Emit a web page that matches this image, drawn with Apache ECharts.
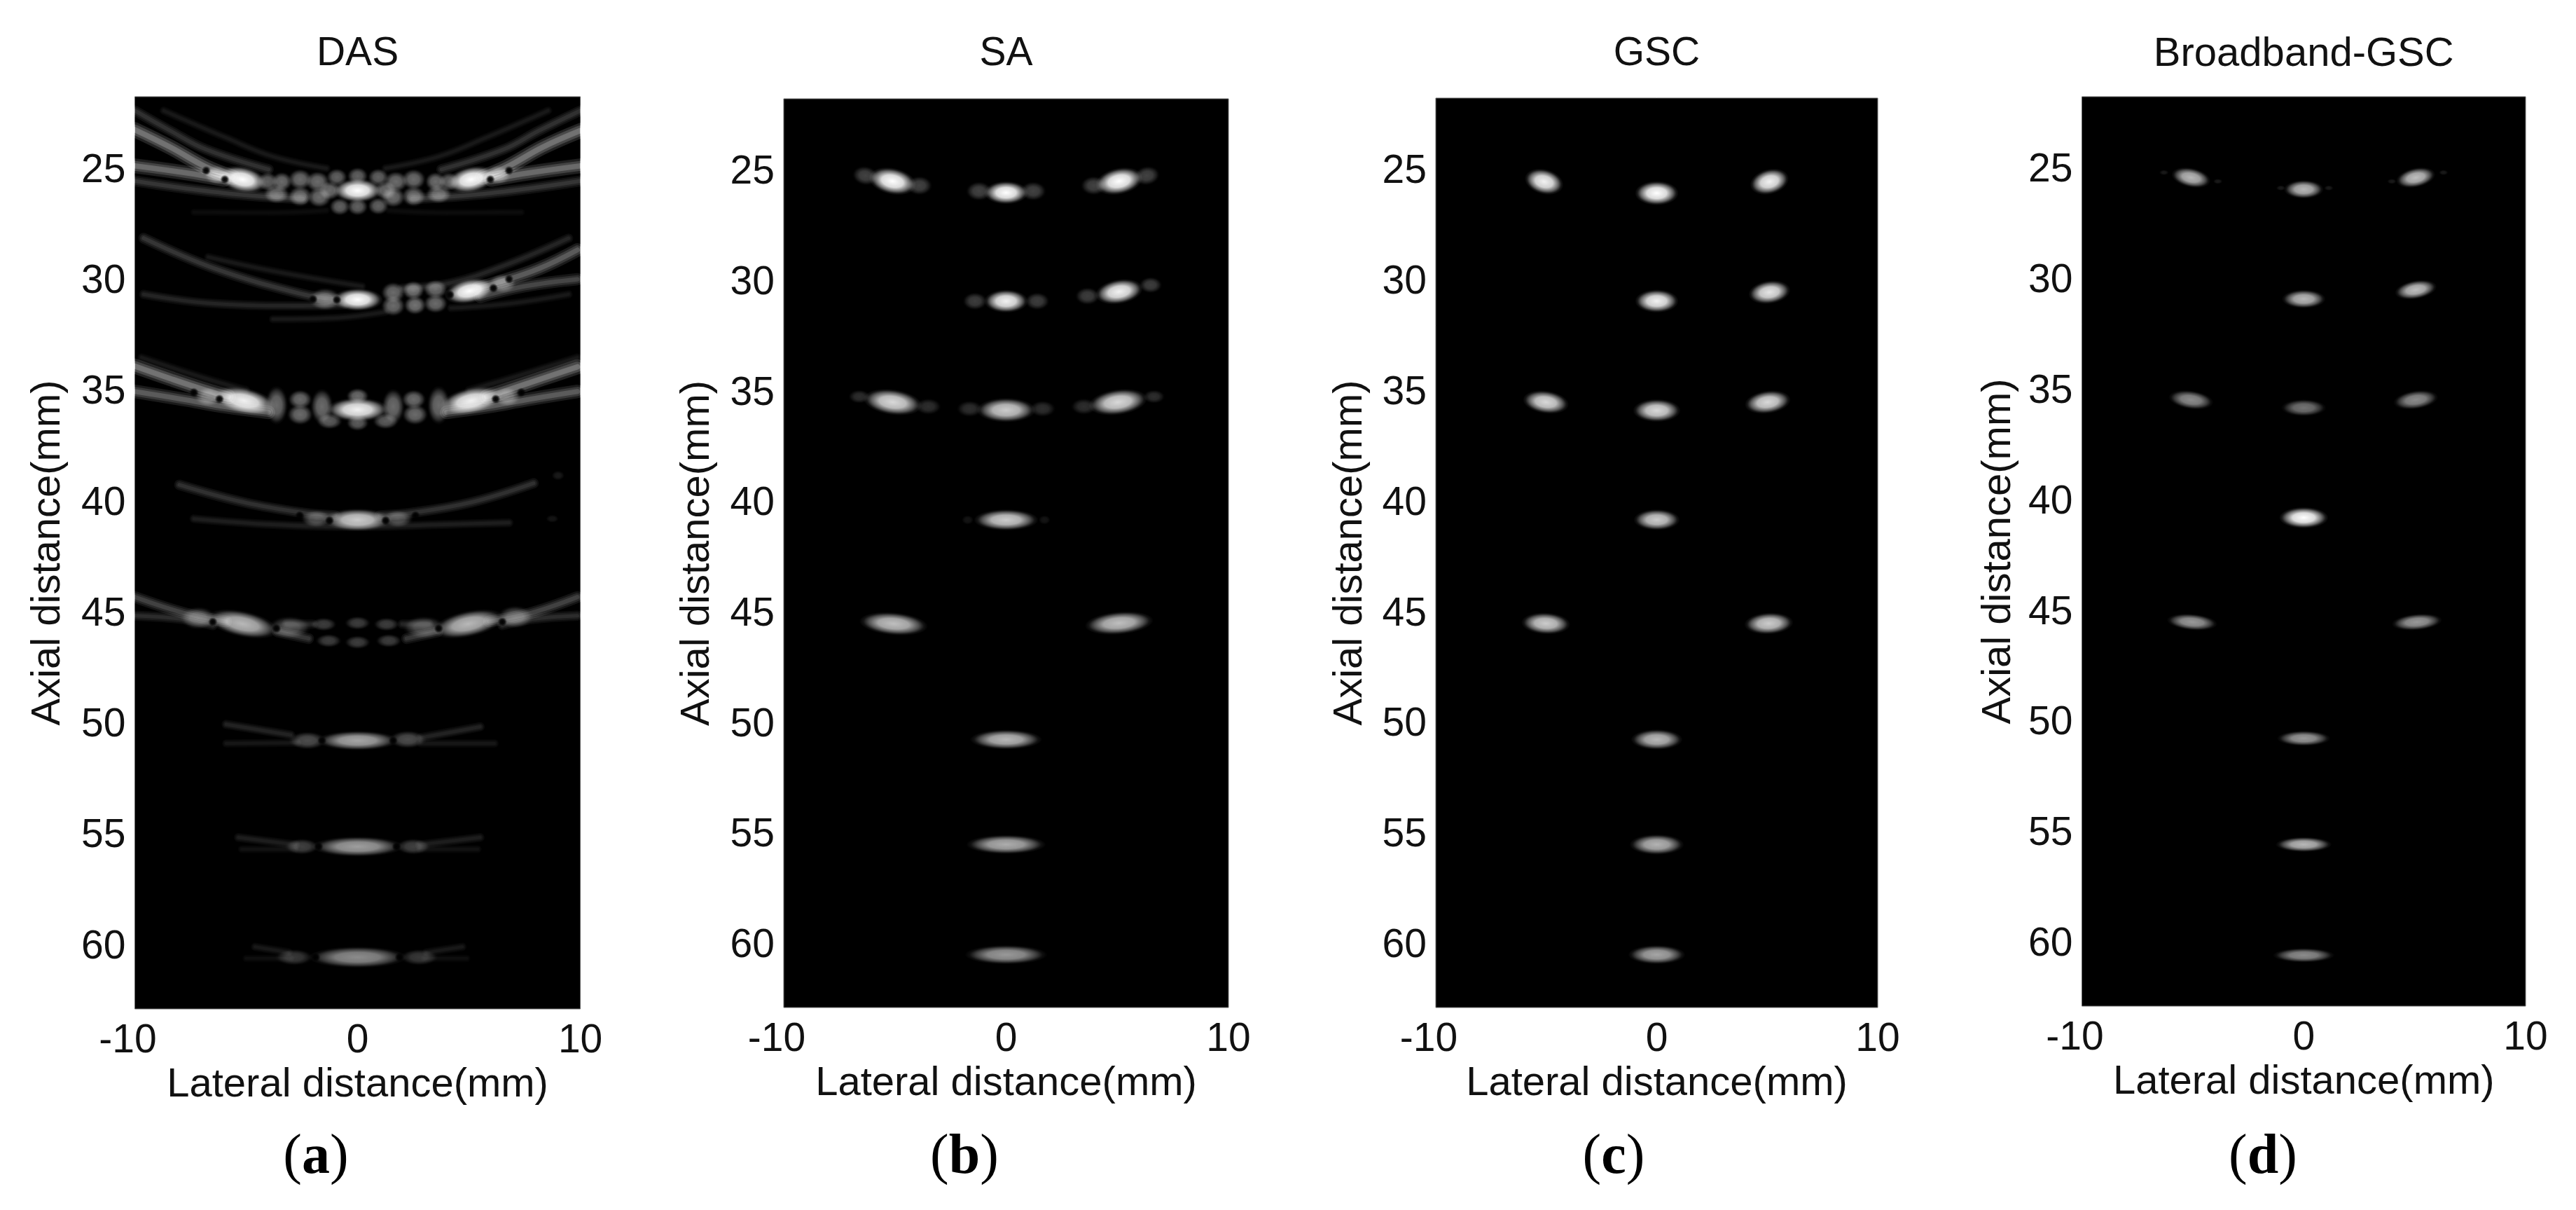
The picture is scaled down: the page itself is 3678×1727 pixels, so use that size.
<!DOCTYPE html>
<html><head><meta charset="utf-8">
<style>html,body{margin:0;padding:0;background:#fff}#c{width:3678px;height:1727px}</style>
<script src="https://cdn.jsdelivr.net/npm/echarts@6/dist/echarts.min.js"></script>
</head><body><div id="c"></div>
<script>
// ---- labels ----
const panelTitles = ['DAS', 'SA', 'GSC', 'Broadband-GSC'];
const panelLetters = ['a', 'b', 'c', 'd'];
const lateralTicks = [-10, 0, 10];
const axialTicks = [25, 30, 35, 40, 45, 50, 55, 60];
const lateralName = 'Lateral distance(mm)';
const axialName = 'Axial distance(mm)';

// ---- blobs: lateral mm, axial mm, lateral extent mm, axial extent mm, tilt deg, level 0-1 ----
const dasSpots = [
  [-5.17,25.6,1.5,.8,-12,1],[0,26.1,1.5,.74,0,1],[5.1,25.6,1.5,.8,12,1],
  [0,31.02,1.55,.7,0,1],[5.03,30.63,1.55,.75,12,1],
  [-5.1,35.58,1.95,.8,-12,.95],[0,35.98,1.9,.74,0,.95],[5.1,35.58,1.95,.8,12,.95],
  [0,40.95,2.1,.7,0,.8],
  [-5.17,45.64,2.2,.8,-12,.72],[4.97,45.64,2.2,.8,12,.72],
  [0,50.9,2.5,.6,0,.65],
  [0,55.68,2.8,.62,0,.62],
  [0,60.67,3,.66,0,.55]
];
const dasLobes = [
  // row 25
  [-2.58,25.6,.75,.65,0,.42],[-2.58,26.36,.75,.65,0,.42],[2.52,25.6,.75,.65,0,.42],[2.52,26.36,.75,.65,0,.42],
  [-1.8,25.7,.75,.65,0,.42],[-1.72,26.4,.75,.65,0,.42],[1.72,25.7,.75,.65,0,.42],[1.6,26.4,.75,.65,0,.42],
  [-.93,25.5,.65,.55,0,.38],[0,25.45,.65,.55,0,.38],[.93,25.5,.65,.55,0,.38],
  [-.8,26.83,.65,.55,0,.38],[0,26.83,.65,.55,0,.38],[.93,26.8,.65,.55,0,.38],
  [-4.04,25.7,.65,.6,0,.38],[-3.4,25.7,.65,.6,0,.42],[-3.64,26.26,.8,.6,0,.42],
  [4.1,25.7,.65,.6,0,.38],[3.5,25.7,.65,.6,0,.42],[3.64,26.26,.8,.6,0,.42],
  [-6.3,25.4,.8,.6,0,.42],[6.3,25.4,.8,.6,0,.42],[-1.26,26.1,.7,.6,0,.42],[1.26,26.1,.7,.6,0,.42],
  // row 30
  [-1.46,31,1,.7,0,.42],[1.6,30.7,.75,.65,0,.42],[1.6,31.3,.75,.65,0,.42],[2.5,30.6,.7,.6,0,.45],[2.58,31.27,.7,.6,0,.45],
  [3.5,30.55,.75,.6,0,.42],[3.5,31.2,.75,.6,0,.42],[6.5,30.3,.85,.6,-0,.38],
  // row 35
  [-3.64,35.78,.7,1.2,0,.42],[3.64,35.78,.7,1.2,0,.42],[-2.58,35.52,.75,.6,0,.42],[-2.58,36.2,.8,.65,0,.42],
  [2.52,35.52,.75,.6,0,.42],[2.58,36.2,.8,.65,0,.42],[-1.6,35.84,.7,1.1,0,.42],[-1.26,36.5,.8,.5,0,.36],
  [1.6,35.84,.7,1.1,0,.42],[1.26,36.5,.8,.5,0,.36],[0,35.37,.7,.5,0,.42],[0,36.58,.7,.5,0,.36],
  [-6.7,35.4,.85,.6,0,.4],[6.7,35.4,.85,.6,0,.4],
  // row 40
  [-1.85,40.9,.95,.55,0,.32],[1.8,40.9,.95,.55,0,.32],[9,38.95,.4,.3,0,.1],[8.74,40.9,.4,.25,0,.08],
  // row 45
  [-7.15,45.38,1.1,.7,0,.34],[-3.05,45.8,1.3,.7,0,.3],[2.98,45.8,1.3,.7,0,.3],[7.08,45.33,1.1,.7,0,.34],
  [-1.52,45.66,.8,.42,0,.24],[0,45.6,.8,.42,0,.24],[1.3,45.66,.8,.42,0,.24],
  [-1.3,46.4,.8,.42,0,.24],[0,46.47,.8,.42,0,.24],[1.4,46.4,.8,.42,0,.24],
  // row 50
  [-2.25,50.9,1.15,.55,0,.3],[2.25,50.85,1.15,.55,0,.3],
  // row 55
  [-2.5,55.68,1.05,.5,0,.25],[2.5,55.68,1.05,.5,0,.25],
  // row 60
  [-2.85,60.67,1.15,.5,0,.22],[2.77,60.67,1.15,.5,0,.22]
];
const dasNulls = [
  [-5.96,25.6],[5.96,25.6],[-6.8,25.2],[6.8,25.2],
  [-.93,31.03],[-2,31],[6.1,30.5],[4.15,30.8],[6.8,30.1],
  [-6.2,35.5],[6.2,35.5],[-7.35,35.2],[7.35,35.2],
  [-1.26,40.98],[1.26,40.98],[-2.6,40.75],[2.6,40.75],
  [-6.5,45.55],[-3.64,45.85],[3.64,45.85],[6.5,45.55],
  [-1.6,50.9],[1.6,50.9],[-1.75,55.68],[1.75,55.68],[-1.88,60.67],[1.88,60.67]
];
const saSpots = [
  [-5.11,25.6,1.75,.97,-12,1],[0,26.12,1.6,.85,0,1],[5.08,25.6,1.75,.97,12,1],
  [-6.33,25.35,.95,.7,-10,.26],[-3.9,25.8,.95,.7,0,.26],[-1.22,26.05,.95,.7,0,.26],[1.22,26.05,.95,.7,0,.26],[3.94,25.8,.95,.7,0,.26],[6.33,25.35,.95,.7,10,.26],
  [0,31.03,1.6,.85,0,.95],[-1.4,31.03,.9,.65,0,.24],[1.4,31.03,.9,.65,0,.24],
  [5.08,30.6,1.75,.9,10,.95],[3.66,30.8,.9,.65,0,.24],[6.5,30.3,.85,.6,0,.24],
  [-5.1,35.6,2.15,.94,-8,.85],[0,35.96,2.15,.9,0,.8],[5.03,35.6,2.15,.94,8,.85],
  [-6.6,35.35,.8,.5,0,.18],[-3.5,35.8,.95,.6,0,.18],[-1.64,35.9,.95,.6,0,.18],[1.64,35.9,.95,.6,0,.18],[3.5,35.8,.95,.6,0,.18],[6.65,35.35,.8,.5,0,.18],
  [0,40.93,2.35,.78,0,.8],[-1.73,40.93,.45,.35,0,.08],[1.73,40.93,.45,.35,0,.08],
  [-5.06,45.63,2.5,.84,-5,.75],[5.08,45.6,2.5,.84,5,.75],
  [0,50.87,2.62,.73,0,.72],[0,55.62,2.9,.71,0,.68],[0,60.61,3,.71,0,.6]
];
const gscSpots = [
  [-5.1,25.65,1.45,.92,-15,.95],[0,26.17,1.6,.89,0,1],[5.1,25.65,1.45,.92,15,.95],
  [0,31.05,1.6,.85,0,.95],[5.1,30.65,1.55,.85,8,.9],
  [-5.02,35.62,1.7,.84,-8,.85],[0,36,1.75,.84,0,.85],[5.02,35.62,1.7,.84,8,.85],
  [0,40.94,1.7,.77,0,.8],
  [-5.02,45.63,1.8,.8,-3,.8],[5.07,45.63,1.8,.8,3,.8],
  [0,50.88,1.9,.75,0,.72],[0,55.63,2,.75,0,.7],[0,60.61,2.1,.7,0,.65]
];
const bgscSpots = [
  [-5.08,25.53,1.45,.71,-12,.72],[0,26.06,1.45,.68,0,.72],[5.05,25.53,1.45,.71,12,.75],
  [-6.3,25.3,.35,.2,0,.1],[-3.87,25.7,.35,.2,0,.1],[-1.03,26,.35,.2,0,.1],[1.13,26,.35,.2,0,.1],[3.97,25.7,.35,.2,0,.1],[6.3,25.3,.35,.2,0,.1],
  [0,31.02,1.6,.68,0,.72],[5.05,30.6,1.55,.68,10,.75],
  [-5.08,35.58,1.65,.68,-8,.55],[0,35.94,1.65,.62,0,.45],[5.05,35.58,1.65,.68,8,.55],
  [0,40.91,1.8,.78,0,1],
  [-5.03,45.63,1.85,.6,-5,.6],[5.1,45.63,1.85,.6,5,.6],
  [0,50.89,1.95,.56,0,.6],[0,55.69,2.05,.55,0,.72],[0,60.7,2.25,.53,0,.55]
];
// ---- DAS arc traces: [lateral mm, axial mm] points, with a separate list of levels ----
const dasArcLines = [
  [[-10,23.36],[-8.4,24.15],[-6.8,25.04],[-5.6,25.5]],[[10,23.4],[8.3,24.15],[6.7,25.04],[5.6,25.5]],
  [[-10,22.5],[-8.4,23.41],[-6.8,24.25],[-4,25.15]],[[10,22.5],[8.15,23.4],[6.55,24.25],[3.77,25.15]],
  [[-8.7,22.5],[-5.9,23.72],[-3.8,24.57],[-1.4,25.1]],[[8.55,22.5],[5.76,23.72],[3.64,24.57],[1.26,25.1]],
  [[-10,24.99],[-7.75,25.3],[-6,25.6]],[[10,24.99],[7.75,25.3],[6,25.6]],
  [[-10,25.67],[-7.75,26],[-5.1,26.3],[-2.45,26.47]],[[10,25.67],[7.75,26],[5.1,26.3],[2.45,26.47]],
  [[-7.35,27.08],[-4,27.1],[-1.4,27]],[[7.35,27.08],[4,27.1],[1.4,27]],
  // row 30
  [[9.87,28.78],[8.15,29.62],[6.3,30.25],[5.4,30.5]],[[-9.6,28.25],[-6.4,29.62],[-2.45,30.78],[-1,31]],
  [[9.47,28.25],[6.8,29.4],[4.2,30.26],[2,30.5]],[[-6.7,29.1],[-3.8,29.73],[.2,30.42]],
  [[9.87,30.1],[7.48,30.42],[5.5,30.9]],[[9.47,30.78],[6.8,31.2],[4.2,31.4]],
  [[-9.6,30.78],[-6.4,31.2],[-2.45,31.3],[-.6,31.25]],[[-3.8,31.9],[-1.1,31.85],[1.26,31.57]],
  // row 35
  [[-10,34.02],[-8.4,34.58],[-6.8,35.11],[-5.8,35.4]],[[9.87,34.05],[8.28,34.58],[6.7,35.11],[5.8,35.4]],
  [[-10,35.16],[-7.75,35.53],[-6,35.84],[-4,36.1]],[[9.87,35.16],[7.6,35.53],[5.9,35.84],[4,36.1]],
  [[9.87,33.63],[6.8,34.58],[5,35.1]],[[-9.7,33.63],[-6.8,34.58],[-5,35.1]],
  // row 40
  [[-8,39.37],[-5.1,40.16],[-2.45,40.63],[-1,40.75]],[[7.9,39.3],[5.1,40.16],[2.45,40.63],[1,40.75]],
  [[-7.35,40.9],[-3.8,41.16],[0,41.26],[3.8,41.16],[6.8,41.08]],
  // row 45
  [[-10,44.43],[-7.75,45.16],[-5.9,45.53]],[[9.87,44.43],[7.75,45.16],[5.9,45.53]],
  [[-10,45.27],[-7.75,45.43],[-6.5,45.7]],[[9.87,45.27],[7.75,45.43],[6.5,45.7]],
  [[-3.6,46],[-2.2,46.3]],[[3.6,46],[2.2,46.3]],[[-3.2,45.65],[-2,45.65]],[[3.2,45.65],[2,45.65]],
  // row 50
  [[-5.9,50.17],[-3,50.65]],[[5.5,50.28],[2.85,50.77]],[[-5.9,51.03],[-2.7,51]],[[2.85,51.03],[6.15,51.03]],
  // row 55
  [[-5.35,55.27],[-2.77,55.6]],[[5.5,55.27],[2.77,55.6]],[[-5.2,55.8],[-2.8,55.8]],[[2.8,55.8],[5.4,55.8]],
  // row 60
  [[-4.6,60.2],[-3.1,60.45]],[[4.7,60.2],[3.1,60.45]],[[-5,60.72],[-3,60.72]],[[3,60.72],[4.9,60.72]]
];
const dasArcLevels = [
  .42,.42,.2,.2,.1,.1,.4,.4,.22,.22,.05,.05,
  .35,.22,.15,.1,.28,.1,.15,.1,
  .42,.42,.35,.35,.1,.1,
  .2,.2,.12,
  .26,.26,.18,.18,.22,.22,.15,.15,
  .14,.14,.09,.09,
  .12,.12,.07,.07,
  .1,.1,.06,.06
];

// ---- layout (pixels), kept apart from the data ----
const panels = [
  {l:192.5, r:828.6, t:138, b:1440, name:95, cap:446,  grow:.0074, spots:dasSpots.concat(dasLobes)},
  {l:1119,  r:1754,  t:141, b:1438, name:94, cap:1372, grow:.0062, spots:saSpots},
  {l:2050,  r:2681,  t:140, b:1438, name:93, cap:2299, grow:.0062, spots:gscSpots},
  {l:2972.5,r:3606,  t:138, b:1436, name:90, cap:3226, grow:.0062, spots:bgscSpots}
];
const W = 3678, H = 1727, SANS = '"Liberation Sans", Arial, sans-serif', SERIF = '"Liberation Serif", serif', INK = '#111';
const arcLayers = [[1, .3], [.68, .34], [.36, .36]];

function blob(level, isNull) {
  const c = a => isNull ? 'rgba(0,0,0,' + a + ')' : 'rgba(255,255,255,' + a * level + ')';
  return {type:'radial', x:.5, y:.5, r:.5, colorStops:[
    {offset:0, color:c(1)}, {offset:.45, color:c(.86)}, {offset:.72, color:c(.42)}, {offset:.88, color:c(.1)}, {offset:1, color:c(0)}]};
}
function spotItem(grow) {
  return function (params, api) {
    const c = api.coord([api.value(0), api.value(1)]);
    const s = api.size([api.value(2), api.value(3)]);
    return {type:'circle', x:c[0], y:c[1], scaleX:s[0]*grow, scaleY:s[1]*grow,
      rotation: api.value(4)*Math.PI/180, shape:{cx:0, cy:0, r:100},
      style:{fill:blob(api.value(5), false), blend:'lighter'}};
  };
}
function nullItem(params, api) {
  const c = api.coord([api.value(0), api.value(1)]);
  return {type:'circle', x:c[0], y:c[1], shape:{cx:0, cy:0, r:7}, style:{fill:blob(1, true)}};
}

const option = {animation:false, backgroundColor:'#fff', title:[], grid:[], xAxis:[], yAxis:[], series:[]};
panels.forEach((p, i) => {
  option.title.push({text:panelTitles[i], left:(p.l+p.r)/2-5, top:44, textAlign:'center',
    textStyle:{fontFamily:SANS, fontSize:i === 3 ? 58 : 57, fontWeight:'normal', color:INK}});
  option.title.push({text:'{p|(}{b|' + panelLetters[i] + '}{p|)}', left:p.cap, top:1608, textAlign:'center',
    textStyle:{fontWeight:'normal', rich:{p:{fontFamily:SERIF, fontSize:80, fontWeight:'normal', color:'#000'}, b:{fontFamily:SERIF, fontSize:80, fontWeight:'bold', color:'#000'}}}});
  option.grid.push({left:p.l, top:p.t, width:p.r-p.l, height:p.b-p.t, show:true, backgroundColor:'#000', borderWidth:1, borderColor:'#666'});
  option.xAxis.push({gridIndex:i, type:'value', min:-10, max:10, interval:10,
    axisLine:{show:false}, axisTick:{show:false}, splitLine:{show:false},
    axisLabel:{customValues:lateralTicks, fontFamily:SANS, fontSize:57, color:INK, margin:18,
      formatter:v => v < 0 ? '{n|' + v + '}' : String(v),
      rich:{n:{fontFamily:SANS, fontSize:57, color:INK, padding:[0,20,0,0]}}},
    name:lateralName, nameLocation:'middle', nameGap:78, nameTextStyle:{fontFamily:SANS, fontSize:58, color:INK}});
  option.yAxis.push({gridIndex:i, type:'value', inverse:true, min:21.87, max:63,
    axisLine:{show:false}, axisTick:{show:false}, splitLine:{show:false},
    axisLabel:{customValues:axialTicks, margin:13, formatter:'{t|{value}}',
      rich:{t:{fontFamily:SANS, fontSize:57, color:INK, padding:[14,0,0,0]}}},
    name:axialName, nameLocation:'middle', nameGap:p.name, nameRotate:90, nameTextStyle:{fontFamily:SANS, fontSize:58, color:INK}});
  if (i === 0) {
    dasArcLines.forEach((pts, k) => {
      const lv = dasArcLevels[k], W0 = 9 + 30*lv;
      arcLayers.forEach(([wf, af]) => {
        const col = 'rgba(255,255,255,' + (lv*af*.95) + ')';
        option.series.push({type:'line', xAxisIndex:0, yAxisIndex:0, data:pts, symbol:'none', smooth:.4, silent:true,
          blendMode:'lighter', z:2, lineStyle:{color:col, width:W0*wf, cap:'round', shadowColor:col, shadowBlur:7}});
      });
    });
  }
  option.series.push({type:'custom', xAxisIndex:i, yAxisIndex:i, data:p.spots, renderItem:spotItem(p.grow), clip:true, silent:true, z:3,
    encode:{x:0, y:1}});
  if (i === 0) {
    option.series.push({type:'custom', xAxisIndex:0, yAxisIndex:0, data:dasNulls, renderItem:nullItem, clip:true, silent:true, z:4,
      encode:{x:0, y:1}});
  }
});
const chart = echarts.init(document.getElementById('c'), null, {renderer:'canvas', width:W, height:H, devicePixelRatio:1});
chart.setOption(option);
</script></body></html>
